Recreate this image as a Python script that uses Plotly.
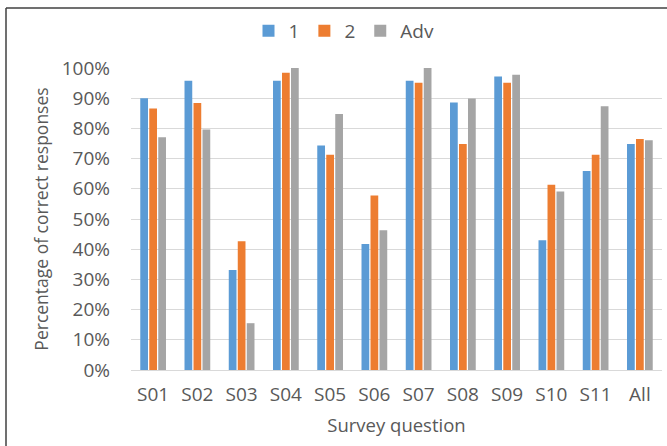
import plotly.graph_objects as go

# Survey questions and share of correct responses per group (fractions)
questions = ["S01", "S02", "S03", "S04", "S05", "S06", "S07", "S08", "S09", "S10", "S11", "All"]
group_1 = [0.90, 0.958, 0.331, 0.958, 0.743, 0.417, 0.958, 0.886, 0.972, 0.430, 0.659, 0.748]
group_2 = [0.866, 0.884, 0.426, 0.984, 0.713, 0.578, 0.951, 0.748, 0.951, 0.613, 0.713, 0.765]
group_adv = [0.771, 0.796, 0.155, 1.00, 0.848, 0.463, 1.00, 0.899, 0.978, 0.591, 0.873, 0.761]

series = [("1", group_1, "#5B9BD5"), ("2", group_2, "#ED7D31"), ("Adv", group_adv, "#A5A5A5")]

W, H = 667, 446
ML, MR, MT, MB = 131, 5, 68, 76
pw, ph = W - ML - MR, H - MT - MB

def px_x(x):
    return (x - ML) / pw

def px_y(y):
    return (H - MB - y) / ph

fig = go.Figure()
for name, vals, color in series:
    fig.add_trace(go.Bar(
        x=questions, y=vals, name=name,
        marker=dict(color=color, line=dict(width=0)),
    ))

text_color = "#595959"
font_family = "Open Sans"

fig.update_layout(
    width=W, height=H,
    margin=dict(l=ML, r=MR, t=MT, b=MB),
    paper_bgcolor="white", plot_bgcolor="white",
    barmode="group", bargap=0.39, bargroupgap=0.14,
    font=dict(family=font_family, color=text_color, size=17),
    legend=dict(
        orientation="h", x=px_x(344), y=px_y(31),
        xanchor="center", yanchor="middle",
        font=dict(size=19, color=text_color),
        itemwidth=30, tracegroupgap=0,
    ),
    xaxis=dict(
        title=dict(text="Survey question", font=dict(size=18.5, color=text_color), standoff=13),
        showgrid=False, showline=True, linecolor="#D9D9D9", linewidth=1,
        ticks="", tickfont=dict(size=19, color=text_color),
        ticklabelstandoff=7,
    ),
    yaxis=dict(
        title=dict(text="Percentage of correct responses", font=dict(size=17.5, color=text_color), standoff=8),
        range=[0, 1], dtick=0.1, tickformat=".0%",
        showgrid=True, gridcolor="#D9D9D9", gridwidth=1,
        zeroline=False, showline=False, ticks="",
        tickfont=dict(size=19, color=text_color),
        ticklabelstandoff=20,
    ),
    shapes=[
        dict(type="line", xref="paper", yref="paper",
             x0=px_x(6), x1=px_x(W), y0=px_y(8), y1=px_y(8),
             line=dict(color="#404040", width=1.5)),
        dict(type="line", xref="paper", yref="paper",
             x0=px_x(6), x1=px_x(6), y0=px_y(8), y1=px_y(H),
             line=dict(color="#404040", width=1.5)),
    ],
)

fig.write_html("out.html")
